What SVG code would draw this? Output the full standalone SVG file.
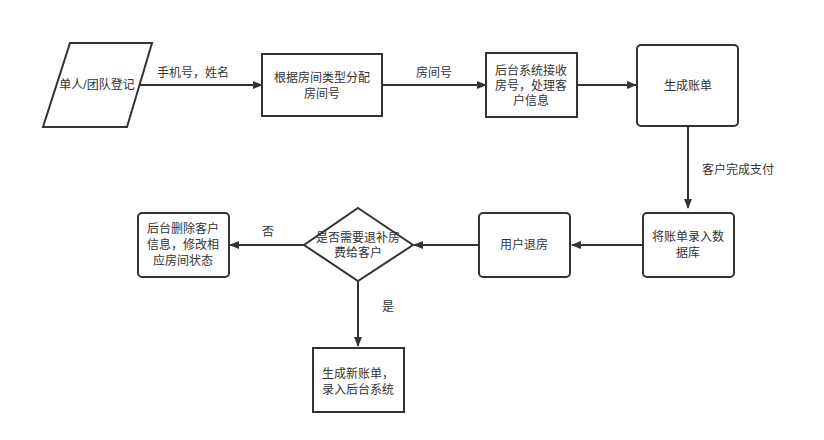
<svg xmlns="http://www.w3.org/2000/svg" width="824" height="440" viewBox="0 0 824 440">
<defs>
<marker id="arr" markerWidth="10" markerHeight="8" refX="9" refY="4" orient="auto" markerUnits="userSpaceOnUse">
<path d="M0,0 L10,4 L0,8 Z" fill="#333"/>
</marker>
<style>
.s{fill:#fff;stroke:#333;stroke-width:2}
.c{fill:none;stroke:#333;stroke-width:2;marker-end:url(#arr)}
text{font-family:"Liberation Sans","Noto Sans CJK SC",sans-serif;font-size:12px;fill:#333;text-anchor:middle}
</style>
</defs>
<rect width="824" height="440" fill="#fff"/>
<g id="connectors">
<line class="c" x1="139" y1="85" x2="262" y2="85"/>
<text x="193" y="77">手机号，姓名</text>
<line class="c" x1="382" y1="85" x2="486" y2="85"/>
<text x="434" y="77">房间号</text>
<line class="c" x1="577" y1="85" x2="636" y2="85"/>
<line class="c" x1="688" y1="126" x2="688" y2="208"/>
<text x="738" y="174">客户完成支付</text>
<line class="c" x1="643" y1="245" x2="572" y2="245"/>
<line class="c" x1="479" y1="245" x2="414" y2="245"/>
<line class="c" x1="304" y1="245" x2="230" y2="245"/>
<text x="268" y="236">否</text>
<line class="c" x1="358" y1="281" x2="358" y2="346"/>
<text x="388" y="311">是</text>
</g>
<g id="n1">
<polygon class="s" points="70,43 152,43 127,127 43,127"/>
<text x="97" y="89">单人/团队登记</text>
</g>
<g id="n2">
<rect class="s" x="262" y="54" width="120" height="62"/>
<text x="322" y="82">根据房间类型分配</text>
<text x="322" y="98">房间号</text>
</g>
<g id="n3">
<rect class="s" x="486" y="53" width="91" height="64"/>
<text x="531" y="75">后台系统接收</text>
<text x="531" y="90">房号，处理客</text>
<text x="531" y="105">户信息</text>
</g>
<g id="n4">
<rect class="s" x="637" y="45" width="101" height="81" rx="4"/>
<text x="688" y="90">生成账单</text>
</g>
<g id="n5">
<rect class="s" x="643" y="213" width="91" height="64" rx="4"/>
<text x="688" y="241">将账单录入数</text>
<text x="688" y="257">据库</text>
</g>
<g id="n6">
<rect class="s" x="479" y="213" width="91" height="64" rx="4"/>
<text x="524" y="249">用户退房</text>
</g>
<g id="n7">
<polygon class="s" points="358,208 413,245 358,281 304,245"/>
<text x="358" y="242">是否需要退补房</text>
<text x="358" y="257">费给客户</text>
</g>
<g id="n8">
<rect class="s" x="138" y="213" width="91" height="64" rx="4"/>
<text x="183" y="233">后台删除客户</text>
<text x="183" y="249">信息，修改相</text>
<text x="183" y="265">应房间状态</text>
</g>
<g id="n9">
<rect class="s" x="313" y="348" width="91" height="64"/>
<text x="358" y="378">生成新账单，</text>
<text x="358" y="394">录入后台系统</text>
</g>
</svg>
